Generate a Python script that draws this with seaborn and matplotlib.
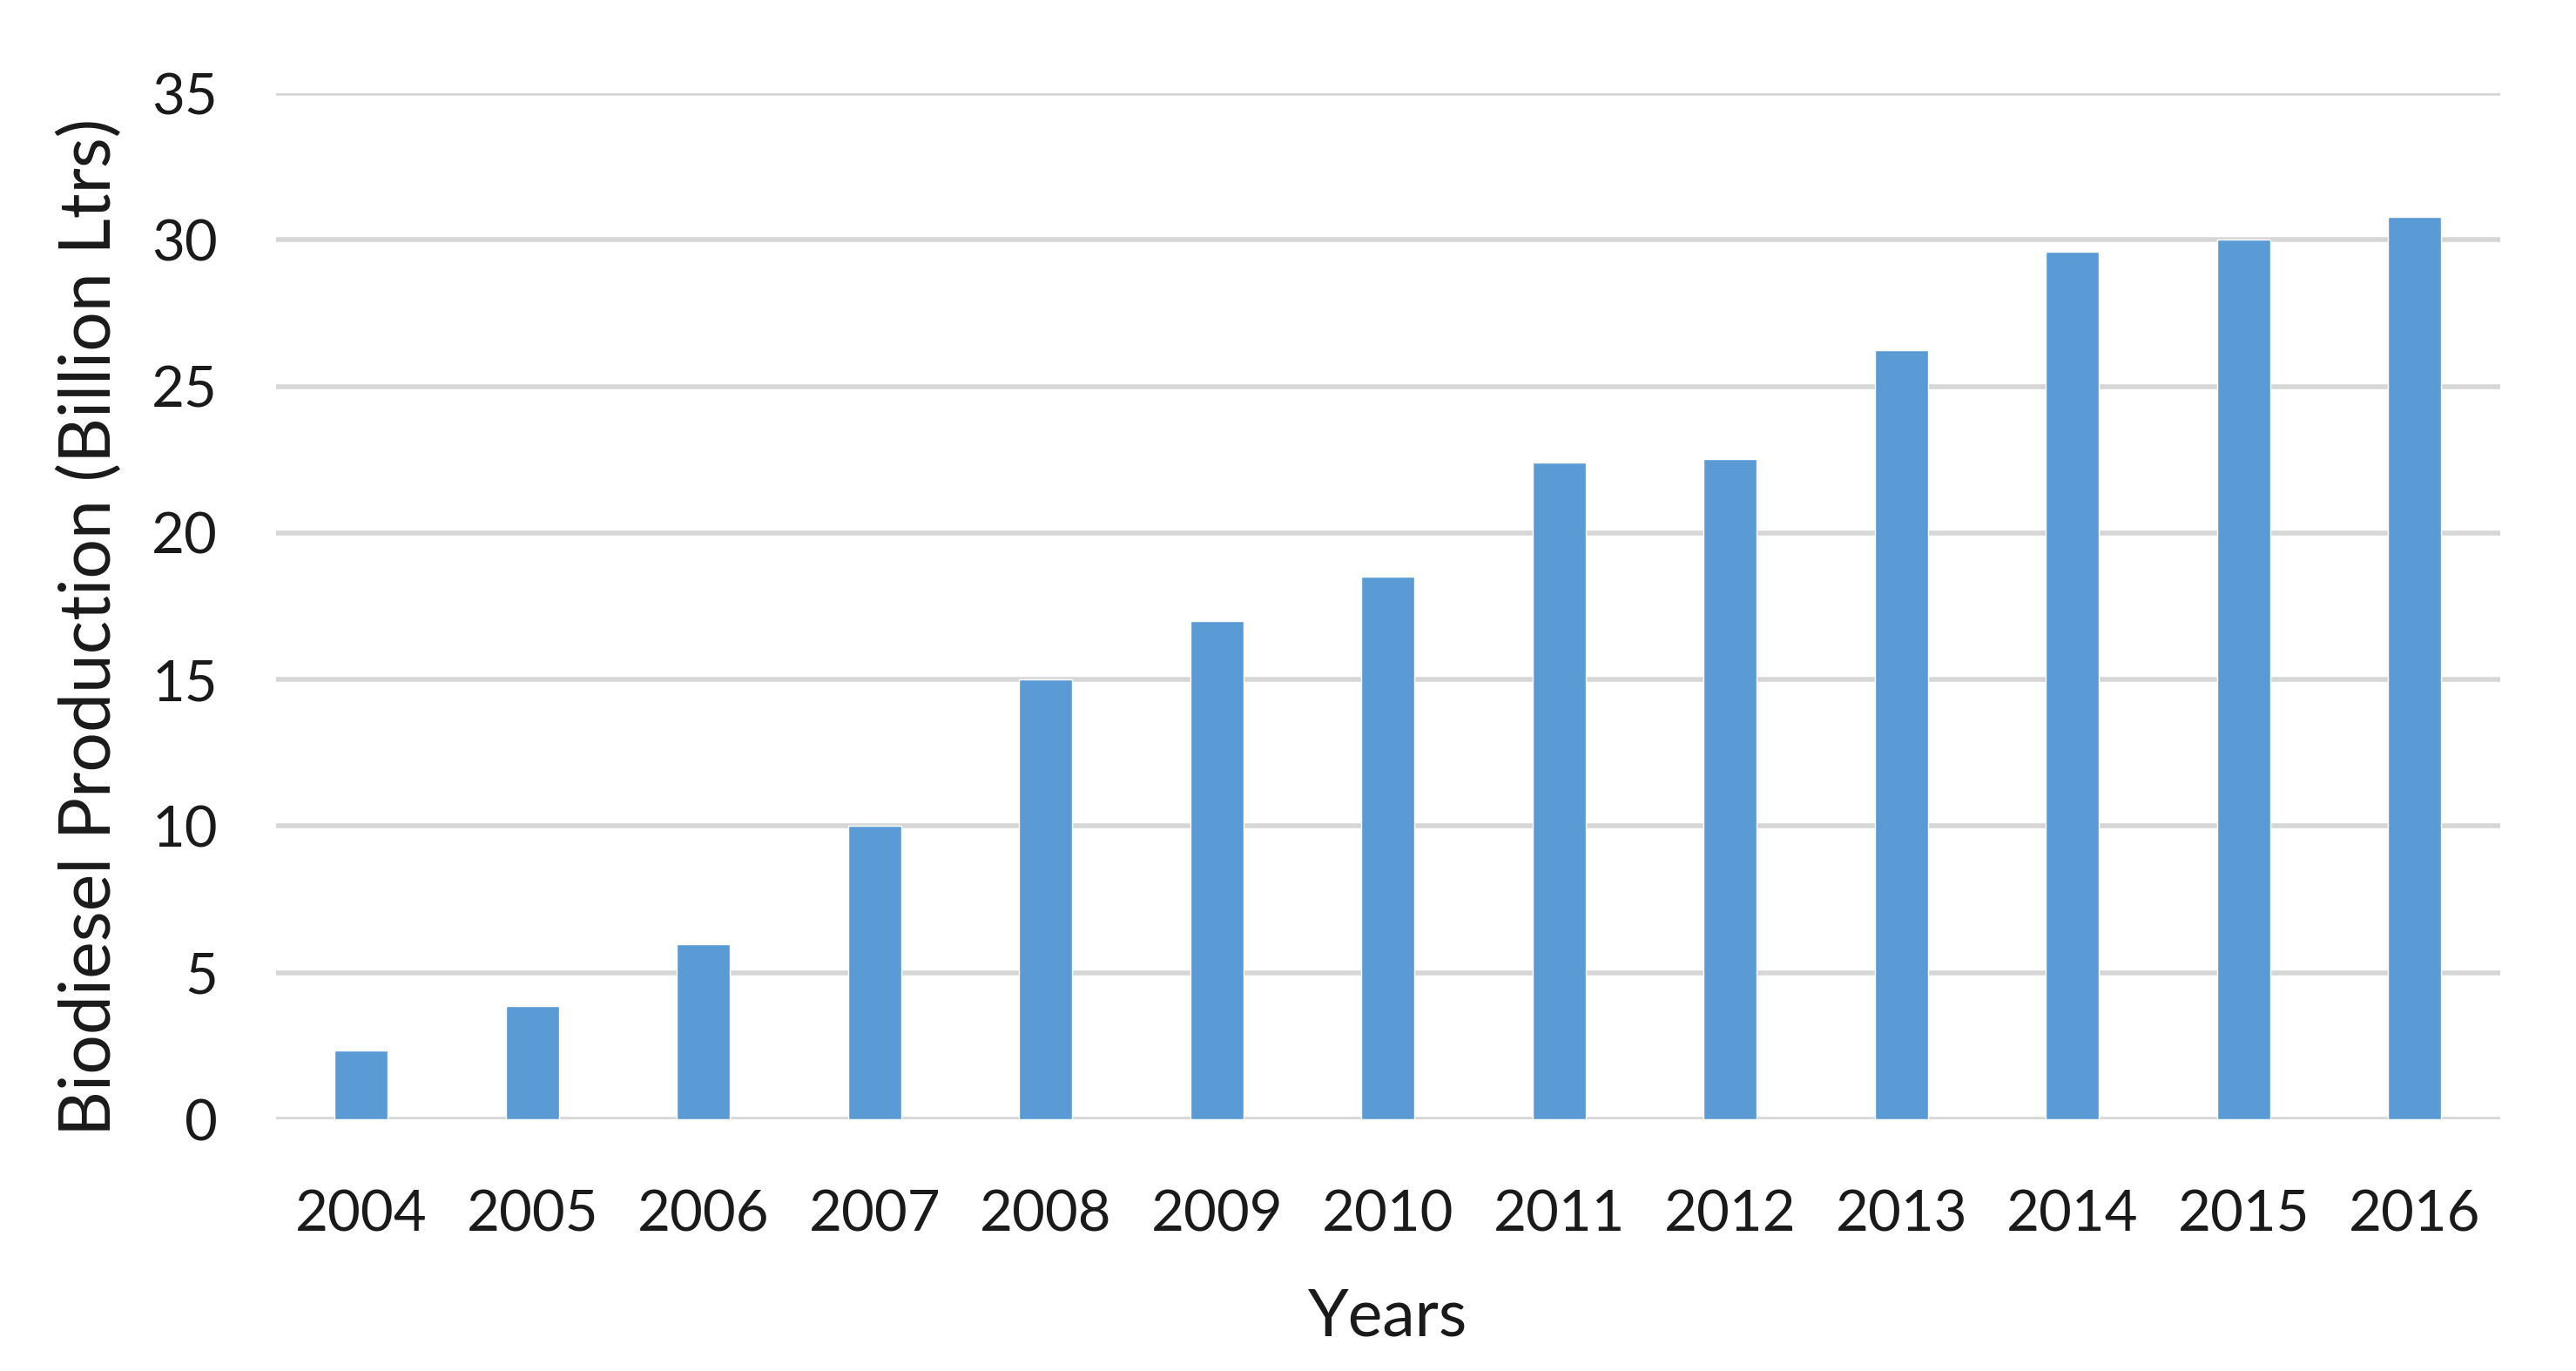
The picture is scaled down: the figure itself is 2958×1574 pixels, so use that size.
import matplotlib
matplotlib.use('Agg')
import matplotlib.pyplot as plt
import seaborn as sns
import pandas as pd

# 연도별 바이오디젤 생산량 (Billion Ltrs)
years = ['2004', '2005', '2006', '2007', '2008', '2009', '2010',
         '2011', '2012', '2013', '2014', '2015', '2016']
production = [2.35, 3.85, 5.96, 10.0, 15.0, 17.0, 18.5,
              22.4, 22.52, 26.25, 29.58, 30.0, 30.77]
yticks = [0, 5, 10, 15, 20, 25, 30, 35]

df = pd.DataFrame({'Years': years, 'Production': production})

sns.set_style('white')
plt.rcParams['font.family'] = ['Lato', 'DejaVu Sans']

fig = plt.figure(figsize=(29.58, 15.74), dpi=100)
ax = fig.add_axes([0.107, 0.1836, 0.8636, 0.7484])

sns.barplot(data=df, x='Years', y='Production', color='#5B9BD5',
            saturation=1, width=0.31, ax=ax, zorder=3)

ax.set_ylim(0, 35)
ax.set_yticks(yticks)
ax.set_xlim(-0.5, len(years) - 0.5)
ax.yaxis.grid(True, color='#D6D6D6', linewidth=4, zorder=0)
ax.set_axisbelow(True)
for s in ax.spines.values():
    s.set_visible(False)

ax.tick_params(axis='both', length=0, labelsize=47, colors='#1a1a1a')
ax.tick_params(axis='y', pad=48)
ax.tick_params(axis='x', pad=58)
ax.set_ylabel('Biodiesel Production (Billion Ltrs)', fontsize=58, color='#1a1a1a', labelpad=24)
ax.yaxis.label.set_y(0.48)
ax.set_xlabel('Years', fontsize=54, color='#1a1a1a', labelpad=38)

fig.savefig('out.png', dpi=100, facecolor='white')
